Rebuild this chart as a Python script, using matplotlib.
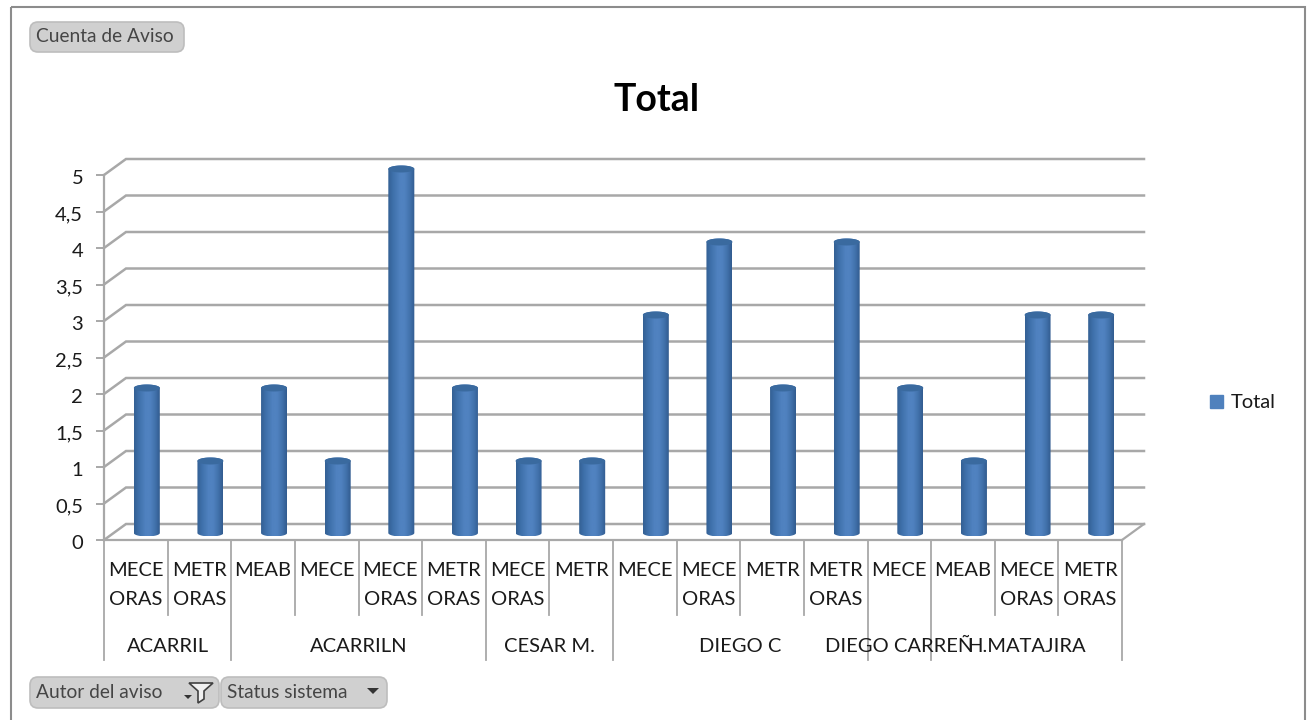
import numpy as np
import matplotlib
matplotlib.use('Agg')
import matplotlib.pyplot as plt
from matplotlib.patches import FancyBboxPatch, Polygon, Patch, Rectangle
from matplotlib.transforms import ScaledTranslation

plt.rcParams['font.family'] = ['Lato', 'DejaVu Sans']

categories = ['MECE\nORAS', 'METR\nORAS', 'MEAB', 'MECE', 'MECE\nORAS', 'METR\nORAS',
              'MECE\nORAS', 'METR', 'MECE', 'MECE\nORAS', 'METR', 'METR\nORAS',
              'MECE', 'MEAB', 'MECE\nORAS', 'METR\nORAS']
values = [2, 1, 2, 1, 5, 2, 1, 1, 3, 4, 2, 4, 2, 1, 3, 3]
groups = ['ACARRIL', 'ACARRILN', 'CESAR M.', 'DIEGO C', 'DIEGO CARREÑ', 'H.MATAJIRA']
group_sizes = [2, 4, 2, 4, 1, 3]
y_ticks = [0, 0.5, 1, 1.5, 2, 2.5, 3, 3.5, 4, 4.5, 5]
y_labels = ['0', '0,5', '1', '1,5', '2', '2,5', '3', '3,5', '4', '4,5', '5']

W, H = 1315, 720
GRID = '#a8a8a8'
TXT = '#1a1a1a'

fig = plt.figure(figsize=(W / 100, H / 100), dpi=100, facecolor='white')

# overlay for the pivot chart frame and buttons, in pixels
bg = fig.add_axes([0, 0, 1, 1])
bg.set_xlim(0, W)
bg.set_ylim(H, 0)
bg.axis('off')
bg.add_patch(Rectangle((11, 7), 1294, 720, fill=False, ec='#8c8c8c', lw=1.5))

bg.text(657, 100, 'Total', fontsize=27, fontweight='bold', color='black',
        ha='center', va='center')


def button(x0, x1, y0, y1, label):
    bg.add_patch(FancyBboxPatch((x0 + 8, y0 + 8), x1 - x0 - 16, y1 - y0 - 16,
                                boxstyle='round,pad=8', fc='#d0d0d0', ec='#bdbdbd', lw=1.2))
    bg.text(x0 + 6, (y0 + y1) / 2, label, fontsize=13.8, color='#454545',
            ha='left', va='center')


def arrow(x, y, r=6):
    bg.add_patch(Polygon([(x - r, y - r / 2), (x + r, y - r / 2), (x, y + r / 2)],
                         fc='#333333', ec='none'))


button(30, 184, 22, 52, 'Cuenta de Aviso')
button(30, 219, 677, 708, 'Autor del aviso')
button(221, 387, 677, 708, 'Status sistema')
arrow(373, 691)
# filter icon
arrow(188, 697, 4)
bg.add_patch(Polygon([(189, 683), (213, 683), (204, 691), (204, 699), (198, 703), (198, 691)],
                     fc='#f0f0f0', ec='#404040', lw=1.2))

# front plane of the 3D chart
ax_l, ax_r, ax_b, ax_t = 104, 1122, 540, 175
ax = fig.add_axes([ax_l / W, 1 - ax_b / H, (ax_r - ax_l) / W, (ax_b - ax_t) / H])
ax.patch.set_alpha(0)
n = len(values)
ax.set_xlim(0, n)
ax.set_ylim(0, 5)
px_x = n / (ax_r - ax_l)
px_y = 5 / (ax_b - ax_t)
dx, dy = 22 * px_x, 16 * px_y

for s in ['top', 'right']:
    ax.spines[s].set_visible(False)
for s in ['left', 'bottom']:
    ax.spines[s].set_color(GRID)
    ax.spines[s].set_linewidth(1.6)
ax.set_xticks([])
ax.set_yticks(y_ticks)
ax.set_yticklabels(y_labels, fontsize=14.5, color=TXT, va='center_baseline')
ax.tick_params(axis='y', length=6, width=1.4, color=GRID, pad=9)
for lab in ax.get_yticklabels():
    lab.set_transform(lab.get_transform() + ScaledTranslation(0, -2 / 100, fig.dpi_scale_trans))

# back wall gridlines and the diagonals of the side wall
for v in y_ticks:
    ax.plot([0, dx, n + dx], [v, v + dy, v + dy], color=GRID, lw=1.8, clip_on=False, zorder=1,
            solid_joinstyle='miter')
ax.plot([n, n + dx], [0, dy], color=GRID, lw=1.6, clip_on=False, zorder=1)

# cylinders
grad = np.array([0.0, 0.18, 0.45, 0.62, 0.82, 1.0])
cols = np.array([[52, 96, 148], [62, 112, 170], [80, 130, 192], [80, 130, 192],
                 [66, 114, 172], [50, 92, 144]]) / 255
ramp = np.stack([np.interp(np.linspace(0, 1, 64), grad, cols[:, c]) for c in range(3)], axis=1)[None, :, :]
bar_w = 26 * px_x
t = np.linspace(0, np.pi, 40)
rx, ry = bar_w / 2, 3.5 * px_y
for i, v in enumerate(values):
    cx = i + 0.5 + dx / 2
    y0 = dy / 2 - 1 * px_y
    y1 = v + dy / 2 - 2 * px_y
    outline = np.vstack([
        np.column_stack([cx + rx * np.cos(t), y1 + ry * np.sin(t)]),
        np.column_stack([cx - rx * np.cos(t), y0 - ry * np.sin(t)]),
    ])
    im = ax.imshow(ramp, extent=(cx - rx, cx + rx, y0 - ry, y1 + ry), aspect='auto', zorder=3)
    im.set_clip_box(fig.bbox)
    im.set_clip_path(Polygon(outline, transform=ax.transData))
    ax.fill(cx + rx * np.cos(2 * t), y1 + ry * np.sin(2 * t), color='#3a6a9f', zorder=4,
            clip_on=False, lw=0)
ax.set_xlim(0, n)
ax.set_ylim(0, 5)

# multi level category axis
lvl1_y = -75 * px_y
lvl2_y = -120 * px_y
for i, lab in enumerate(categories):
    ax.text(i + 0.5, -22 * px_y, lab, fontsize=14.5, color=TXT, ha='center', va='top',
            linespacing=1.85, clip_on=False)
edges = np.concatenate([[0], np.cumsum(group_sizes)])
for i in range(n + 1):
    low = lvl2_y if i in edges else lvl1_y
    ax.plot([i, i], [0, low], color=GRID, lw=1.3, clip_on=False, zorder=1)
for g, a, b in zip(groups, edges[:-1], edges[1:]):
    ax.text((a + b) / 2, -112 * px_y, g, fontsize=14.5, color=TXT, ha='center', va='baseline',
            clip_on=False)

fig.legend(handles=[Patch(color='#4f81bd', label='Total')], loc='center left',
           bbox_to_anchor=(1192 / W, 1 - 403 / H), frameon=False, fontsize=14.5,
           handlelength=0.65, handleheight=0.65, handletextpad=0.35, labelcolor=TXT)

fig.savefig('out.png', dpi=100)
